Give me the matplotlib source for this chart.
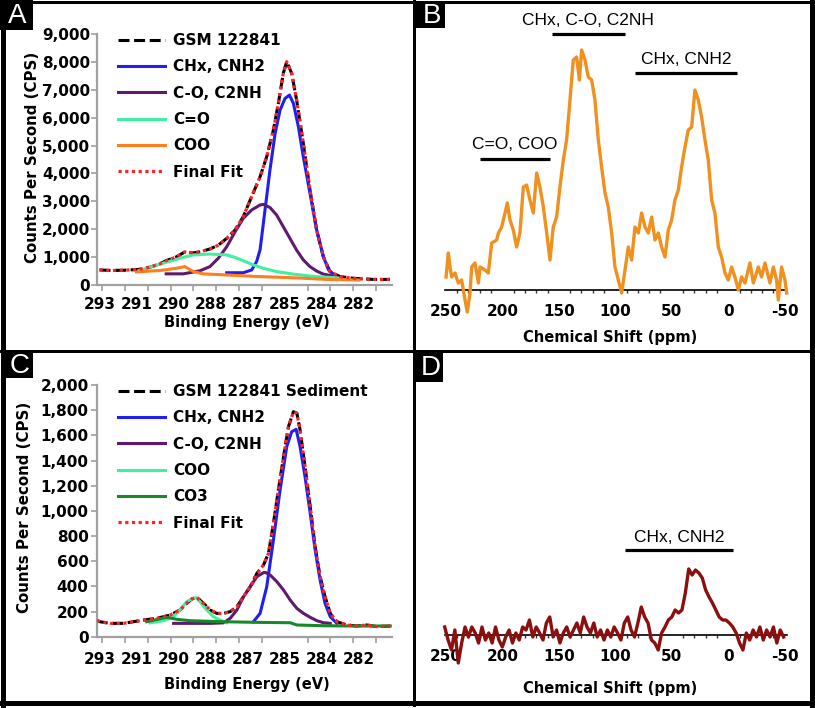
import matplotlib
matplotlib.use("Agg")
import matplotlib.pyplot as plt
from matplotlib.patches import Rectangle
from matplotlib.lines import Line2D
from matplotlib.ticker import FuncFormatter

# ---------------- data ----------------
# XPS axis (binding energy, eV)
be_tick_pos = [292.9, 291.4, 289.9, 288.4, 286.9, 285.4, 283.9, 282.4]
be_tick_labels = ["293", "291", "290", "288", "287", "285", "284", "282"]

# Panel A : GSM 122841 C1s
a_be_total = [292.9, 292.4, 291.9, 291.3, 290.85, 290.45, 290.18, 289.78, 289.44, 289.10,
              288.83, 288.43, 288.09, 287.75, 287.41, 287.08, 286.74, 286.40, 286.13, 285.86,
              285.66, 285.46, 285.32, 285.12, 284.92, 284.65, 284.38, 284.11, 283.84, 283.57,
              283.16, 282.62, 281.81, 281.14]
a_measured = [540, 520, 530, 560, 640, 760, 880, 1010, 1190, 1150,
              1190, 1290, 1430, 1670, 1970, 2450, 3170, 3880, 4600, 5560,
              6510, 7590, 8010, 7590, 6630, 5080, 3410, 1970, 1020, 480,
              300, 240, 200, 200]
a_fit = [540, 520, 530, 560, 640, 760, 880, 1010, 1190, 1150,
         1190, 1290, 1430, 1670, 1970, 2450, 3170, 3880, 4600, 5560,
         6510, 7590, 8010, 7590, 6630, 5080, 3410, 1970, 1020, 480,
         300, 240, 200, 200]
a_be_chx = [287.75, 287.08, 286.74, 286.54, 286.40, 286.20, 286.00, 285.79, 285.59, 285.39,
            285.21, 285.05, 284.85, 284.65, 284.38, 284.11, 283.84, 283.63, 283.30]
a_chx = [440, 440, 540, 840, 1260, 2690, 4120, 5440, 6270, 6690,
         6810, 6510, 5680, 4600, 3290, 1970, 1020, 540, 300]
a_be_co = [290.2, 289.5, 288.83, 288.43, 288.09, 287.75, 287.41, 287.08, 286.74, 286.40,
           286.27, 286.0, 285.73, 285.46, 285.19, 284.92, 284.65, 284.38, 284.11, 283.84, 283.5]
a_co = [400, 400, 510, 660, 960, 1370, 1910, 2390, 2690, 2870,
        2890, 2780, 2510, 2090, 1670, 1250, 900, 660, 500, 390, 330]
a_be_c_o = [291.3, 290.85, 290.45, 289.64, 289.10, 288.43, 287.75, 287.41, 287.08, 286.67,
            286.27, 285.73, 285.05, 284.38, 283.70, 283.2]
a_c_o = [520, 640, 750, 960, 1080, 1110, 1080, 990, 870, 720,
         600, 480, 390, 320, 280, 250]
a_be_coo = [291.4, 290.45, 289.78, 289.44, 289.10, 288.70, 287.75, 286.40, 285.05, 283.70, 282.4]
a_coo = [470, 520, 600, 660, 480, 400, 360, 300, 260, 200, 180]

# Panel C : GSM 122841 Sediment C1s
c_be_total = [293.0, 292.88, 292.47, 291.93, 291.53, 291.12, 290.58, 290.04, 289.64, 289.37,
              289.16, 288.96, 288.69, 288.42, 288.15, 287.88, 287.61, 287.34, 287.07, 286.80,
              286.53, 286.26, 286.06, 285.86, 285.66, 285.45, 285.25, 285.05, 284.91, 284.78,
              284.58, 284.37, 284.17, 283.97, 283.77, 283.56, 283.29, 282.89, 282.48, 282.08,
              281.67, 281.13]
c_measured = [130, 119, 106, 106, 119, 132, 146, 172, 212, 265,
              300, 313, 265, 212, 185, 185, 199, 238, 318, 397,
              503, 570, 662, 900, 1166, 1430, 1669, 1788, 1775, 1642,
              1351, 1033, 715, 477, 318, 185, 119, 93, 85, 93,
              80, 85]
c_fit = [130, 119, 106, 106, 119, 132, 146, 172, 212, 265,
         300, 313, 265, 212, 185, 185, 199, 238, 318, 397,
         503, 570, 662, 900, 1166, 1430, 1669, 1788, 1775, 1642,
         1351, 1033, 715, 477, 318, 185, 119, 93, 85, 93,
         80, 85]
c_be_chx = [286.67, 286.40, 286.13, 285.86, 285.59, 285.32, 285.12, 284.94, 284.78, 284.58,
            284.37, 284.17, 283.97, 283.77, 283.56, 283.29]
c_chx = [119, 185, 397, 768, 1166, 1510, 1629, 1648, 1510, 1272,
         980, 689, 450, 265, 159, 106]
c_be_co = [289.9, 288.4, 287.88, 287.61, 287.34, 287.07, 286.80, 286.53, 286.26, 286.19,
           285.99, 285.72, 285.45, 285.18, 284.91, 284.64, 284.37, 284.10, 283.83, 283.56]
c_co = [106, 106, 110, 146, 212, 318, 397, 477, 509, 511,
        490, 437, 371, 291, 225, 185, 154, 127, 111, 106]
c_be_coo = [290.85, 290.31, 289.91, 289.64, 289.37, 289.10, 288.99, 288.83, 288.56, 288.29,
            288.02, 287.75]
c_coo = [110, 127, 159, 212, 278, 305, 310, 278, 212, 159, 132, 111]
c_be_co3 = [290.99, 290.18, 289.77, 289.23, 287.88, 286.53, 285.18, 284.91, 283.83, 282.48, 281.13]
c_co3 = [119, 154, 138, 127, 119, 114, 111, 93, 87, 85, 85]

# Panel B : 13C NMR, GSM 122841 (intensity, a.u.)
b_ppm = [249.8, 247.8, 246.3, 244.8, 241.9, 238.9, 236.0, 233.0, 231.0, 228.6,
         227.1, 224.2, 221.2, 219.7, 215.3, 212.4, 209.4, 205.0, 203.5, 200.6,
         197.6, 195.6, 193.2, 190.3, 187.3, 184.4, 181.4, 178.5, 175.5, 172.6,
         169.6, 166.7, 163.7, 160.7, 157.8, 154.9, 151.9, 149.0, 146.0, 143.1,
         140.1, 137.2, 134.2, 131.8, 129.8, 126.8, 123.9, 120.9, 118.0, 115.0,
         112.1, 109.1, 106.2, 103.2, 100.3, 97.3, 94.4, 91.4, 88.5, 85.5,
         82.6, 79.6, 76.7, 73.7, 70.8, 67.8, 64.9, 61.9, 59.0, 56.0,
         53.1, 50.1, 47.2, 44.2, 41.3, 38.3, 35.4, 32.4, 29.5, 26.5,
         23.6, 20.6, 17.7, 14.7, 11.8, 8.8, 5.9, 2.9, 0.0, -3.0,
         -5.9, -8.9, -11.8, -14.8, -19.2, -22.2, -26.6, -29.5, -32.5, -36.9,
         -39.9, -42.8, -44.3, -47.2, -50.2, -51.7]
b_int = [13, 37, 23, 13, 17, 7, 10, -10, -22, -3,
         23, 27, 7, 23, 20, 17, 47, 50, 57, 63,
         77, 87, 70, 60, 43, 57, 103, 105, 90, 77,
         117, 103, 83, 57, 30, 63, 73, 103, 130, 150,
         190, 230, 233, 210, 240, 230, 213, 210, 190, 150,
         123, 97, 83, 57, 23, 10, -3, 20, 43, 30,
         63, 57, 77, 63, 57, 73, 50, 57, 43, 33,
         60, 70, 90, 100, 123, 143, 160, 163, 200, 190,
         173, 150, 130, 90, 77, 43, 33, 17, 10, 23,
         13, 0, 13, 7, 27, 7, 23, 13, 27, 7,
         23, 10, -10, 23, 10, -3]

# Panel D : 13C NMR, sediment (intensity, a.u.)
d_ppm = [251, 248, 245, 242, 239, 236, 233, 230, 227, 224,
         221, 218, 215, 212, 209, 206, 203, 200, 197, 194,
         191, 188, 185, 182, 179, 176, 173, 170, 167, 164,
         161, 158, 155, 152, 149, 146, 143, 140, 137, 134,
         131, 128, 125, 122, 119, 116, 113, 110, 107, 104,
         101, 98, 95, 92, 89, 86, 83, 80, 77, 74,
         71, 68, 65, 62, 59, 56, 53, 50, 47, 44,
         41, 38, 35, 32, 29, 26, 23, 20, 17, 14,
         11, 8, 5, 2, -1, -4, -7, -10, -13, -16,
         -19, -22, -25, -28, -31, -34, -37, -40, -43, -46,
         -49]
d_int = [8, -5, -15, 5, -28, -8, 8, -2, 8, 2,
         -8, 8, -5, 2, -8, 8, -5, -12, -2, 5,
         -8, 2, -5, 8, 5, 15, -2, 8, 2, -5,
         12, 18, -2, 5, -8, 2, 8, -2, 5, 12,
         2, 18, 8, 2, 12, -2, 5, -5, 5, -2,
         8, 2, -5, 12, 18, 5, -2, 12, 28, 18,
         12, -5, -8, -15, 2, 8, 15, 18, 25, 22,
         25, 42, 66, 60, 65, 62, 57, 45, 38, 32,
         25, 18, 15, 15, 12, 8, 2, -8, -15, 2,
         -5, 5, -2, 8, -5, 5, -2, 8, -8, 5,
         -2]

nmr_ticks = [250, 200, 150, 100, 50, 0, -50]
nmr_tick_labels = ["250", "200", "150", "100", "50", "0", "-50"]

# annotations: (text, ppm start, ppm end, bar height, text height)
b_annotations = [("CHx, C-O, C2NH", 156, 91.6, 256, 269),
                 ("CHx, CNH2", 82.6, -7.7, 217, 230),
                 ("C=O, COO", 219.7, 157.8, 131, 145)]
d_annotations = [("CHx, CNH2", 91.5, -4.2, 85, 97)]

# ---------------- styles ----------------
BLUE = "#1f1ff0"
PURPLE = "#5e1a6e"
MINT = "#3ff0a0"
ORANGE = "#ff7f1e"
RED = "#ff2222"
DKGREEN = "#17892a"
NMR_ORANGE = "#f0901e"
NMR_RED = "#8a1010"
GRAY = "#a0a0a0"

W, H = 815, 708
fig = plt.figure(figsize=(W / 100, H / 100), dpi=100)
plt.rcParams['font.family'] = ['DejaVu Sans']


def px_axes(l, t, r, b):
    return fig.add_axes([l / W, 1 - b / H, (r - l) / W, (b - t) / H])


def style_xps(ax, ymax, ystep, xpad, ypad):
    ax.set_xlim(293.0, 281.06)
    ax.set_ylim(0, ymax)
    for s in ['top', 'right']:
        ax.spines[s].set_visible(False)
    for s in ['left', 'bottom']:
        ax.spines[s].set_color(GRAY)
        ax.spines[s].set_linewidth(1.6)
    ax.set_xticks(be_tick_pos)
    ax.set_xticklabels(be_tick_labels)
    ax.set_xticks([292.8 - 0.925 * k for k in range(13)], minor=True)
    ax.tick_params(axis='x', which='major', length=0, pad=xpad, labelsize=11)
    ax.tick_params(axis='x', which='minor', length=4, width=1.2, color=GRAY, direction='out')
    ax.set_yticks(list(range(0, ymax + 1, ystep)))
    ax.yaxis.set_major_formatter(FuncFormatter(lambda v, p: f"{int(v):,}"))
    ax.tick_params(axis='y', length=4, width=1.2, color=GRAY, pad=ypad, labelsize=11)
    for lab in ax.get_xticklabels() + ax.get_yticklabels():
        lab.set_fontweight('bold')
    ax.set_facecolor('none')


def dashed_black(ax, x, y):
    return ax.plot(x, y, color='black', lw=2.2, linestyle=(0, (3.6, 1.5)), zorder=2)[0]


def dotted_red(ax, x, y):
    return ax.plot(x, y, color=RED, lw=2.3, linestyle=(0, (1.0, 1.1)), zorder=4)[0]


LEG = dict(loc='upper left', frameon=False, borderpad=0, borderaxespad=0, handlelength=3.1,
           handletextpad=0.5, labelspacing=0.74, prop={'weight': 'bold', 'size': 11})

# ---------------- panel A ----------------
axA = px_axes(97, 34, 392, 285)
hA = [dashed_black(axA, a_be_total, a_measured)]
hA.append(axA.plot(a_be_chx, a_chx, color=BLUE, lw=2.2, zorder=3)[0])
hA.append(axA.plot(a_be_co, a_co, color=PURPLE, lw=2.2, zorder=3)[0])
hA.append(axA.plot(a_be_c_o, a_c_o, color=MINT, lw=2.2, zorder=3)[0])
hA.append(axA.plot(a_be_coo, a_coo, color=ORANGE, lw=2.2, zorder=3)[0])
hA.append(dotted_red(axA, a_be_total, a_fit))
style_xps(axA, 9000, 1000, 8.5, 1.0)
axA.set_xlabel("Binding Energy (eV)", fontsize=10.5, fontweight='bold')
axA.xaxis.set_label_coords((247 - 97) / 295, (285 - 322) / 251)
axA.xaxis.label.set_va('center')
axA.set_ylabel("Counts Per Second (CPS)", fontsize=10.8, fontweight='bold')
axA.yaxis.set_label_coords((33 - 97) / 295, (285 - 157) / 251)
axA.yaxis.label.set_va('center')
fig.legend(hA, ["GSM 122841", "CHx, CNH2", "C-O, C2NH", "C=O", "COO", "Final Fit"],
           bbox_to_anchor=(118 / W, 1 - 33 / H), **LEG)

# ---------------- panel C ----------------
axC = px_axes(97, 385, 392, 636.7)
hC = [dashed_black(axC, c_be_total, c_measured)]
hC.append(axC.plot(c_be_chx, c_chx, color=BLUE, lw=2.2, zorder=3)[0])
hC.append(axC.plot(c_be_co, c_co, color=PURPLE, lw=2.2, zorder=3)[0])
hC.append(axC.plot(c_be_coo, c_coo, color=MINT, lw=2.2, zorder=3)[0])
hC.append(axC.plot(c_be_co3, c_co3, color=DKGREEN, lw=2.2, zorder=3)[0])
hC.append(dotted_red(axC, c_be_total, c_fit))
style_xps(axC, 2000, 200, 11.2, 2.0)
axC.set_xlabel("Binding Energy (eV)", fontsize=10.5, fontweight='bold')
axC.xaxis.set_label_coords((247 - 97) / 295, (636.7 - 685) / 251.7)
axC.xaxis.label.set_va('center')
axC.set_ylabel("Counts Per Second (CPS)", fontsize=10.8, fontweight='bold')
axC.yaxis.set_label_coords((25 - 97) / 295, (636.7 - 507) / 251.7)
axC.yaxis.label.set_va('center')
fig.legend(hC, ["GSM 122841 Sediment", "CHx, CNH2", "C-O, C2NH", "COO", "CO3", "Final Fit"],
           bbox_to_anchor=(118 / W, 1 - 384 / H), **LEG)


# ---------------- panels B and D ----------------
def style_nmr(ax):
    ax.set_xlim(251, -52)
    for s in ['top', 'right', 'left']:
        ax.spines[s].set_visible(False)
    ax.spines['bottom'].set_position(('data', 0))
    ax.spines['bottom'].set_color('black')
    ax.spines['bottom'].set_linewidth(1.2)
    ax.set_yticks([])
    ax.set_xticks(nmr_ticks)
    ax.set_xticklabels(nmr_tick_labels)
    ax.set_xticks(list(range(250, -51, -10)), minor=True)
    ax.tick_params(axis='x', which='major', length=0, pad=10.4, labelsize=11)
    ax.tick_params(axis='x', which='minor', length=2.5, width=1.0, color='#333333',
                   direction='out')
    for lab in ax.get_xticklabels():
        lab.set_fontweight('bold')
    ax.set_axisbelow(True)
    ax.set_facecolor('none')
    ax.set_xlabel("Chemical Shift (ppm)", fontsize=10.5, fontweight='bold')


def annotate_nmr(ax, annotations):
    for text, x0, x1, ybar, ytext in annotations:
        ax.plot([x0, x1], [ybar, ybar], color='black', lw=2.3, solid_capstyle='butt',
                clip_on=False, zorder=5)
        ax.text((x0 + x1) / 2, ytext, text, ha='center', va='center', fontsize=12.5,
                family=['Liberation Sans', 'DejaVu Sans'], clip_on=False)


axB = px_axes(444.7, 20, 787, 315)
axB.set_ylim(-25, 270)
axB.plot(b_ppm, b_int, color=NMR_ORANGE, lw=2.4, zorder=3, clip_on=False)
style_nmr(axB)
axB.xaxis.set_label_coords((610 - 444.7) / 342.3, (315 - 338) / 295)
axB.xaxis.label.set_va('center')
annotate_nmr(axB, b_annotations)

axD = px_axes(444.7, 365, 787, 665)
axD.set_ylim(-30, 270)
axD.plot(d_ppm, d_int, color=NMR_RED, lw=2.4, zorder=3, clip_on=False)
style_nmr(axD)
axD.xaxis.set_label_coords((610 - 444.7) / 342.3, (665 - 688) / 300)
axD.xaxis.label.set_va('center')
annotate_nmr(axD, d_annotations)


# ---------------- frame and panel letters ----------------
def fig_line(x0, y0, x1, y1, lw_px):
    fig.add_artist(Line2D([x0 / W, x1 / W], [1 - y0 / H, 1 - y1 / H], transform=fig.transFigure,
                          color='black', lw=lw_px * 0.72, solid_capstyle='projecting'))


fig_line(3, 0, 3, 705, 5)
fig_line(0, 1.5, 815, 1.5, 3)
fig_line(812, 0, 812, 705, 5)
fig_line(0, 702.5, 815, 702.5, 5)
fig_line(414.5, 0, 414.5, 705, 3)
fig_line(0, 350.5, 815, 350.5, 3)

for letter, x, y, w, h in [("A", 0, 0, 33, 30), ("B", 416, 2, 29, 26),
                           ("C", 4, 352, 29, 26), ("D", 416, 352, 27, 30)]:
    fig.add_artist(Rectangle((x / W, 1 - (y + h) / H), w / W, h / H, transform=fig.transFigure,
                             facecolor='black', edgecolor='none'))
    fig.text((x + w / 2 + 1) / W, 1 - (y + h / 2 + 1) / H, letter, color='white', fontsize=20,
             family=['Liberation Sans', 'DejaVu Sans'], ha='center', va='center')

fig.savefig("out.png", dpi=100)
